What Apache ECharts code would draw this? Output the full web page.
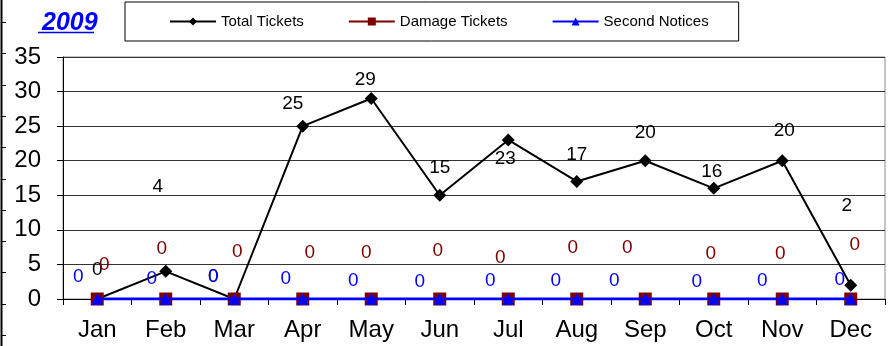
<!DOCTYPE html>
<html>
<head>
<meta charset="utf-8">
<script src="https://cdn.jsdelivr.net/npm/echarts@6/dist/echarts.min.js"></script>
<style>
  html, body { margin: 0; padding: 0; background: #fff; }
  #chart { width: 889px; height: 346px; }
</style>
</head>
<body>
<div id="chart"></div>
<script>
const months = ['Jan', 'Feb', 'Mar', 'Apr', 'May', 'Jun', 'Jul', 'Aug', 'Sep', 'Oct', 'Nov', 'Dec']
const totalTickets = [0, 4, 0, 25, 29, 15, 23, 17, 20, 16, 20, 2]
const damageTickets = [0, 0, 0, 0, 0, 0, 0, 0, 0, 0, 0, 0]
const secondNotices = [0, 0, 0, 0, 0, 0, 0, 0, 0, 0, 0, 0]

// label nudges (px) copied from the hand-placed labels of the original
const totalShift = [[0, -29], [-8, -85], [-21, -22], [-10, -22], [-6, -19], [0, -28], [-3, 19], [0, -27], [0, -28], [-2, -17], [2, -30], [-4, -79]]
const damageShift = [[7, -34], [-4, -50], [3, -47], [7, -46], [-5, -46], [-2, -48], [-8, -41], [-4, -51], [-18, -51], [-3, -45], [-2, -45], [4, -54]]
const noticeShift = [[-19, -22], [-14, -20], [-21, -22], [-17, -20], [-18, -18], [-20, -17], [-18, -18], [-21, -18], [-31, -18], [-17, -17], [-20, -18], [-11, -19]]

const font = 'Liberation Sans, Arial, sans-serif'

const withLabels = (values, shifts) => values.map((v, i) => ({
    value: v,
    label: { offset: shifts[i] }
}))

const chart = echarts.init(document.getElementById('chart'))

// left frame edge with its tick marks
const frameTicks = []
for (let y = 22; y < 346; y += 31.3) {
    frameTicks.push({ type: 'line', shape: { x1: 1, y1: Math.round(y) + 0.5, x2: 6, y2: Math.round(y) + 0.5 }, style: { stroke: '#000', lineWidth: 1 } })
}

chart.setOption({
    animation: false,
    title: {
        text: '2009',
        left: 37,
        top: 6,
        textStyle: { color: '#0000ff', fontSize: 25, fontStyle: 'italic', fontWeight: 'bold', fontFamily: font }
    },
    graphic: [
        { type: 'line', shape: { x1: 38, y1: 32.5, x2: 94, y2: 32.5 }, style: { stroke: '#0000ff', lineWidth: 1.5 } },
        { type: 'line', shape: { x1: 1.5, y1: 0, x2: 1.5, y2: 346 }, style: { stroke: '#000', lineWidth: 2 } },
        ...frameTicks
    ],
    legend: {
        left: 125,
        top: 2,
        padding: [12, 30, 12, 44],
        itemGap: 44,
        itemWidth: 46,
        itemHeight: 10,
        borderColor: '#000',
        borderWidth: 1,
        textStyle: { fontSize: 15, color: '#000', fontFamily: font },
        data: ['Total Tickets', 'Damage Tickets', 'Second Notices']
    },
    grid: {
        left: 63,
        right: 4,
        top: 57,
        bottom: 47,
        show: true,
        borderColor: '#8c8c8c',
        borderWidth: 1
    },
    xAxis: {
        type: 'category',
        data: months,
        boundaryGap: true,
        axisLine: { lineStyle: { color: '#000', width: 1 } },
        axisTick: { show: true, length: 6, lineStyle: { color: '#000' } },
        axisLabel: { fontSize: 24, color: '#000', fontFamily: font, margin: 19 }
    },
    yAxis: {
        type: 'value',
        min: 0,
        max: 35,
        interval: 5,
        axisLine: { show: true, lineStyle: { color: '#000', width: 1 } },
        axisTick: { show: true, length: 6, lineStyle: { color: '#000' } },
        axisLabel: { fontSize: 24, color: '#000', fontFamily: font, margin: 22 },
        splitLine: { lineStyle: { color: '#333', width: 1 } }
    },
    series: [
        {
            name: 'Total Tickets',
            type: 'line',
            data: withLabels(totalTickets, totalShift),
            symbol: 'diamond',
            symbolSize: 13,
            lineStyle: { color: '#000', width: 2 },
            itemStyle: { color: '#000' },
            label: { show: true, position: 'inside', fontSize: 19, color: '#000', fontFamily: font },
            z: 3
        },
        {
            name: 'Damage Tickets',
            type: 'line',
            data: withLabels(damageTickets, damageShift),
            symbol: 'rect',
            symbolSize: 13,
            lineStyle: { color: '#800000', width: 2 },
            itemStyle: { color: '#800000' },
            label: { show: true, position: 'inside', fontSize: 19, color: '#800000', fontFamily: font },
            z: 4
        },
        {
            name: 'Second Notices',
            type: 'line',
            data: withLabels(secondNotices, noticeShift),
            symbol: 'triangle',
            symbolSize: 12,
            lineStyle: { color: '#0000ff', width: 3 },
            itemStyle: { color: '#0000ff' },
            label: { show: true, position: 'inside', fontSize: 19, color: '#0000ff', fontFamily: font },
            z: 5
        }
    ]
})
</script>
</body>
</html>
